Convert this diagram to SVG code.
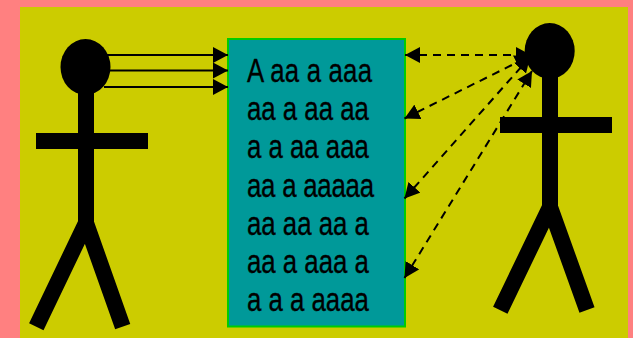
<svg xmlns="http://www.w3.org/2000/svg" width="633" height="338" viewBox="0 0 633 338">
<style>
.limb{fill:none;stroke:#000;stroke-width:16;stroke-linejoin:bevel}
.solid{fill:none;stroke:#000;stroke-width:2}
.dash{fill:none;stroke:#000;stroke-width:2;stroke-dasharray:8 6}
.t{font-family:"Liberation Sans",Arial,sans-serif;font-size:25.8px;fill:#000;stroke:#000;stroke-width:.25}
</style>
<defs>
<marker id="ah" markerUnits="userSpaceOnUse" markerWidth="16" markerHeight="17" refX="15" refY="8.5" orient="auto-start-reverse" viewBox="0 0 16 17"><path d="M0 0.500L15 8.500L0 16.500Z" fill="#000"/></marker>
</defs>
<rect width="633" height="338" fill="#FF8080"/>
<rect x="20" y="7" width="608" height="331" fill="#CCCC00"/>
<g id="actor-left">
<ellipse cx="85.500" cy="67" rx="25" ry="28"/>
<path class="limb" d="M86 90V223M36 141H148M36.300 326.700L86 223L122.700 326.700"/>
</g>
<g id="actor-right">
<ellipse cx="549.700" cy="51" rx="25" ry="28"/>
<path class="limb" d="M550 75V207M500 125H612M500.300 310.300L550 207L587 310"/>
</g>
<g id="box">
<rect x="228" y="39" width="177" height="287.500" fill="#009999" stroke="#00CC00" stroke-width="2"/>
<g class="t" transform="translate(247 0)">
<text transform="translate(0 81.500) scale(1 1.3)" textLength="125">A aa a aaa</text>
<text transform="translate(0 119.500) scale(1 1.3)">aa a aa aa</text>
<text transform="translate(0 158) scale(1 1.3)">a a aa aaa</text>
<text transform="translate(0 196.500) scale(1 1.3)" textLength="127">aa a aaaaa</text>
<text transform="translate(0 234.500) scale(1 1.3)">aa aa aa a</text>
<text transform="translate(0 273) scale(1 1.3)">aa a aaa a</text>
<text transform="translate(0 311) scale(1 1.3)">a a a aaaa</text>
</g>
</g>
<g id="connectors">
<path class="solid" d="M106 55H228" marker-end="url(#ah)"/>
<path class="solid" d="M110 70.500H228" stroke-width="1.500" marker-end="url(#ah)"/>
<path class="solid" d="M104 87H228" marker-end="url(#ah)"/>
<path class="dash" d="M405 55H531" marker-start="url(#ah)" marker-end="url(#ah)"/>
<path class="dash" d="M404.500 118.500L530 56" marker-start="url(#ah)" marker-end="url(#ah)"/>
<path class="dash" d="M404.500 198.500L530 57" marker-start="url(#ah)" marker-end="url(#ah)"/>
<path class="dash" d="M404.500 278L532 71" marker-start="url(#ah)" marker-end="url(#ah)"/>
</g>
</svg>
